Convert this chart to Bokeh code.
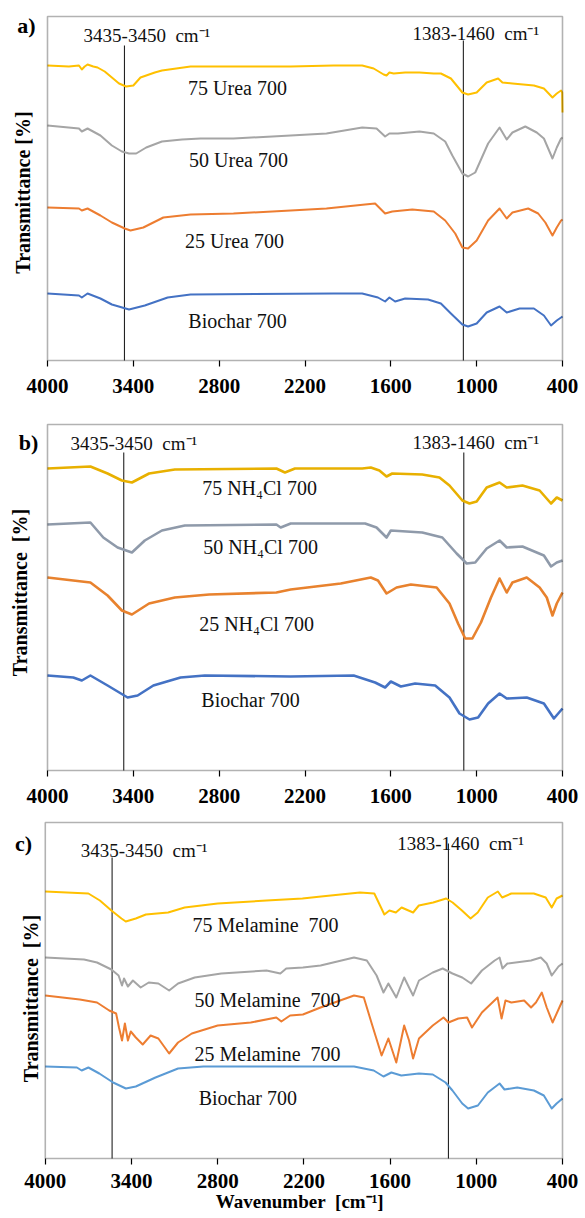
import math
from bokeh.plotting import figure
from bokeh.models import Range1d, FixedTicker, Label, BoxAnnotation
from bokeh.layouts import column
from bokeh.embed import file_html
from bokeh.resources import INLINE

FONT = "Liberation Serif"
x_ticks = [4000, 3400, 2800, 2200, 1600, 1000, 400]

# ---------------- Panel a : Urea ----------------
a_urea75_wn = [4000, 3850, 3780, 3760, 3740, 3720, 3680, 3650, 3600, 3550, 3500, 3450, 3400, 3350, 3250, 3200, 3100, 3000, 2600, 2300, 2000, 1800, 1720, 1650, 1630, 1610, 1580, 1500, 1400, 1300, 1250, 1180, 1100, 1060, 1000, 930, 850, 820, 750, 600, 530, 470, 440, 410, 402, 400]
a_urea75_t = [295, 294, 295, 291, 294, 296, 294, 293, 289, 283, 277, 274, 275, 283, 288, 290, 292, 294, 294, 294, 295, 295, 292, 286, 285, 288, 287, 288, 288, 287, 287, 282, 268, 266, 268, 278, 282, 278, 277, 275, 272, 263, 267, 270, 268, 248]

a_urea50_wn = [4000, 3780, 3760, 3720, 3630, 3550, 3480, 3430, 3380, 3310, 3200, 3060, 2930, 2700, 2300, 2050, 1800, 1700, 1640, 1610, 1550, 1400, 1300, 1220, 1170, 1100, 1060, 1010, 920, 840, 790, 750, 660, 580, 530, 470, 440, 410, 400]
a_urea50_t = [235, 232, 229, 232, 225, 215, 209, 207, 207, 213, 219, 221, 222, 222, 225, 227, 233, 232, 224, 227, 227, 229, 227, 219, 205, 187, 184, 188, 217, 233, 221, 228, 234, 228, 222, 202, 213, 222, 223]

a_urea25_wn = [4000, 3780, 3760, 3720, 3630, 3550, 3460, 3420, 3330, 3190, 3000, 2700, 2300, 2050, 1780, 1710, 1640, 1590, 1450, 1300, 1220, 1150, 1100, 1060, 1000, 920, 840, 790, 750, 640, 570, 520, 470, 440, 410, 400]
a_urea25_t = [153, 152, 150, 152, 145, 138, 132, 130, 133, 143, 146, 147, 150, 152, 156, 157, 147, 149, 151, 149, 140, 127, 113, 112, 120, 140, 152, 142, 148, 152, 147, 138, 125, 133, 140, 141]

a_bio_wn = [4000, 3780, 3760, 3720, 3630, 3550, 3430, 3320, 3160, 3000, 2000, 1800, 1690, 1640, 1610, 1570, 1500, 1340, 1250, 1180, 1100, 1060, 1000, 930, 840, 790, 700, 600, 530, 480, 440, 410, 400]
a_bio_t = [67, 65, 63, 67, 62, 56, 51, 55, 63, 66, 67, 67, 63, 59, 63, 59, 62, 61, 57, 47, 36, 34, 37, 48, 54, 48, 52, 52, 45, 35, 40, 43, 44]

# ---------------- Panel b : NH4Cl ----------------
b_nh75_wn = [4000, 3700, 3580, 3480, 3410, 3290, 3110, 2400, 2340, 2270, 1800, 1740, 1680, 1630, 1590, 1380, 1260, 1190, 1100, 1050, 1000, 930, 840, 790, 680, 560, 480, 440, 400]
b_nh75_t = [302, 304, 297, 290, 288, 297, 301, 302, 298, 302, 302, 303, 300, 294, 297, 296, 293, 285, 270, 267, 269, 283, 288, 283, 285, 280, 267, 273, 270]

b_nh50_wn = [4000, 3700, 3610, 3510, 3410, 3320, 3200, 3040, 2400, 2370, 2300, 1780, 1700, 1630, 1600, 1380, 1240, 1140, 1070, 1010, 930, 840, 790, 680, 530, 480, 440, 400]
b_nh50_t = [246, 248, 233, 223, 218, 230, 240, 245, 246, 243, 247, 247, 243, 233, 240, 238, 233, 217, 207, 208, 222, 230, 223, 224, 215, 204, 208, 210]

b_nh25_wn = [4000, 3700, 3580, 3480, 3410, 3290, 3110, 2870, 2400, 2300, 1950, 1740, 1690, 1630, 1560, 1460, 1280, 1190, 1130, 1080, 1030, 970, 900, 840, 790, 750, 650, 560, 510, 470, 440, 400]
b_nh25_t = [193, 188, 175, 160, 156, 167, 173, 176, 178, 181, 187, 193, 190, 177, 183, 186, 183, 167, 147, 132, 132, 148, 173, 192, 178, 188, 193, 183, 173, 155, 167, 178]

b_bio_wn = [4000, 3820, 3760, 3700, 3580, 3440, 3370, 3260, 3070, 2900, 2300, 1860, 1710, 1640, 1600, 1530, 1430, 1290, 1190, 1120, 1050, 990, 920, 840, 790, 650, 530, 460, 430, 400]
b_bio_t = [95, 93, 90, 95, 85, 73, 75, 85, 93, 95, 94, 95, 88, 83, 89, 84, 87, 85, 73, 57, 51, 53, 67, 77, 72, 73, 67, 52, 57, 62]

# ---------------- Panel c : Melamine ----------------
c_mel75_wn = [4000, 3700, 3620, 3540, 3470, 3440, 3370, 3300, 3145, 3030, 2800, 2460, 2210, 2080, 1810, 1710, 1670, 1640, 1605, 1560, 1520, 1440, 1400, 1300, 1210, 1165, 1100, 1040, 990, 920, 850, 820, 756, 600, 517, 475, 441, 400]
c_mel75_t = [267, 265, 258, 248, 240, 237, 240, 244, 246, 251, 255, 258, 260, 262, 266, 265, 253, 244, 248, 246, 251, 246, 253, 256, 260, 256, 248, 240, 246, 261, 267, 261, 265, 265, 261, 251, 260, 263]

c_mel50_wn = [4000, 3730, 3640, 3540, 3490, 3466, 3452, 3425, 3390, 3336, 3280, 3213, 3138, 3076, 2960, 2775, 2460, 2364, 2323, 2207, 2084, 1851, 1762, 1694, 1646, 1612, 1557, 1502, 1468, 1440, 1399, 1303, 1234, 1166, 1098, 1036, 961, 872, 838, 818, 784, 619, 551, 510, 475, 428, 400]
c_mel50_t = [201, 199, 196, 189, 183, 173, 180, 172, 178, 171, 176, 175, 168, 175, 181, 185, 188, 185, 190, 191, 193, 201, 198, 183, 166, 175, 161, 181, 171, 163, 178, 186, 190, 185, 181, 175, 188, 198, 201, 190, 195, 198, 201, 195, 183, 192, 195]

c_mel25_wn = [4000, 3760, 3640, 3555, 3507, 3487, 3466, 3446, 3425, 3405, 3370, 3322, 3267, 3213, 3138, 3076, 2980, 2800, 2570, 2392, 2357, 2296, 2207, 2084, 1851, 1783, 1728, 1659, 1612, 1557, 1502, 1468, 1440, 1399, 1303, 1228, 1194, 1125, 1064, 1030, 961, 852, 824, 797, 756, 667, 619, 585, 544, 510, 469, 400]
c_mel25_t = [163, 159, 156, 148, 145, 131, 118, 135, 118, 127, 121, 114, 123, 120, 105, 116, 125, 133, 136, 141, 137, 143, 144, 151, 163, 161, 135, 103, 120, 96, 133, 118, 100, 120, 133, 141, 136, 140, 141, 131, 146, 161, 140, 158, 156, 158, 151, 156, 166, 151, 136, 158]

c_bio_wn = [4000, 3780, 3747, 3700, 3624, 3528, 3439, 3370, 3233, 3076, 2900, 1851, 1714, 1646, 1591, 1522, 1399, 1303, 1214, 1166, 1098, 1057, 989, 920, 838, 804, 715, 599, 530, 475, 441, 400]
c_bio_t = [92, 91, 88, 91, 85, 76, 70, 72, 81, 90, 92, 92, 88, 82, 86, 83, 85, 84, 76, 68, 55, 50, 53, 66, 75, 69, 71, 68, 63, 50, 55, 60]

# band marker lines (wavenumber, top of line)
a_marker_wn = [3462, 1093]
a_marker_top = [315, 320]
b_marker_wn = [3467, 1090]
b_marker_top = [318, 318]
c_marker_wn = [3535, 1194]
c_marker_top = [301, 315]

band_labels = ["3435-3450\u00a0 cm\u207b\u00b9", "1383-1460\u00a0 cm\u207b\u00b9"]
y_title = "Transmittance [%]"
y_title_wide = "Transmittance\u00a0 [%]"
x_title = "\u00a0\u00a0\u00a0\u00a0\u00a0\u00a0Wavenumber\u00a0 [cm\u207b\u00b9]"

W = 585
PAD = 2


def make_panel(fig_h, box, frame_lr, tick_standoff, tag, tag_xy, ytitle, ytitle_xy,
               band_xy, markers, series, labels, lw, xlabel=None):
    bl, bt, br, bb = box            # plot box in figure pixels
    fl, fr = frame_lr               # frame extent in figure pixels
    xs = 3600.0 / (br - bl)
    fh = bb - bt
    p = figure(width=W, height=fig_h,
               x_range=Range1d(4000 + (bl - fl) * xs, 400 - (fr - br) * xs),
               y_range=Range1d(-PAD, fh + PAD),
               output_backend="svg", toolbar_location=None,
               min_border_left=fl, min_border_right=W - fr,
               min_border_top=bt - PAD, min_border_bottom=fig_h - bb - PAD)
    p.grid.visible = False
    p.outline_line_color = None
    p.yaxis.visible = False
    xa = p.xaxis[0]
    xa.ticker = FixedTicker(ticks=x_ticks)
    xa.axis_line_color = None
    xa.major_tick_out = 4
    xa.major_tick_in = PAD
    xa.minor_tick_out = 0
    xa.minor_tick_in = 0
    xa.major_tick_line_color = "black"
    xa.major_tick_line_width = 1.2
    xa.major_label_text_font = FONT
    xa.major_label_text_font_size = "21px"
    xa.major_label_text_font_style = "bold"
    xa.major_label_text_color = "black"
    xa.major_label_standoff = tick_standoff
    if xlabel:
        xa.axis_label = xlabel
        xa.axis_label_text_font = FONT
        xa.axis_label_text_font_size = "19px"
        xa.axis_label_text_font_style = "bold"
        xa.axis_label_text_color = "black"
        xa.axis_label_standoff = 0

    p.add_layout(BoxAnnotation(left=4000, right=400, bottom=0, top=fh, fill_color=None,
                               line_color="black", line_width=1.6))

    mwn, mtop = markers
    p.segment(x0=mwn, x1=mwn, y0=[0] * len(mwn), y1=mtop, line_color="#222222", line_width=1.1)

    for wn, t, col in series:
        p.line(wn, t, line_color=col, line_width=lw, line_join="round")

    for (x, y), txt in zip(band_xy, band_labels):
        p.add_layout(Label(x=x, y=y, text=txt, text_align="left", text_baseline="middle",
                           text_font=FONT, text_font_size="19px", text_color="#111111"))
    for (x, y, txt) in labels:
        p.add_layout(Label(x=x, y=y, text=txt, text_align="center", text_baseline="middle",
                           text_font=FONT, text_font_size="20px", text_color="#111111"))
    p.add_layout(Label(x=tag_xy[0], y=tag_xy[1], text=tag, text_align="center",
                       text_baseline="middle", text_font=FONT, text_font_size="22px",
                       text_font_style="bold", text_color="black"))
    p.add_layout(Label(x=ytitle_xy[0], y=ytitle_xy[1], text=ytitle, angle=math.pi / 2,
                       text_align="center", text_baseline="middle", text_font=FONT,
                       text_font_size="20px", text_font_style="bold", text_color="black"))
    return p


pa = make_panel(410, (47, 16, 562, 360), (6, 564), 12, "a)", (4147, 335),
                y_title, (4168, 168),
                [(3748, 325), (1449, 327)], (a_marker_wn, a_marker_top),
                [(a_urea75_wn, a_urea75_t, "#FFC000"), (a_urea50_wn, a_urea50_t, "#A5A5A5"),
                 (a_urea25_wn, a_urea25_t, "#ED7D31"), (a_bio_wn, a_bio_t, "#4472C4")],
                [(2672, 273, "75 Urea 700"), (2665, 201, "50 Urea 700"),
                 (2693, 120, "25 Urea 700"), (2672, 40, "Biochar 700")], 2.0)

pb = make_panel(402, (47, 14, 562, 360), (6, 564), 12, "b)", (4133, 328),
                y_title_wide, (4189, 178),
                [(3839, 327), (1449, 328)], (b_marker_wn, b_marker_top),
                [(b_nh75_wn, b_nh75_t, "#E8B000"), (b_nh50_wn, b_nh50_t, "#8F9AAA"),
                 (b_nh25_wn, b_nh25_t, "#E8822E"), (b_bio_wn, b_bio_t, "#4472C4")],
                [(2518, 283, "75 NH\u2084Cl 700"), (2511, 224, "50 NH\u2084Cl 700"),
                 (2539, 147, "25 NH\u2084Cl 700"), (2581, 71, "Biochar 700")], 2.6)

pc = make_panel(406, (43, 10, 563, 346), (4, 565), 9, "c)", (4151, 315),
                y_title_wide, (4096, 160),
                [(3754, 308), (1550, 315)], (c_marker_wn, c_marker_top),
                [(c_mel75_wn, c_mel75_t, "#FFC000"), (c_mel50_wn, c_mel50_t, "#A5A5A5"),
                 (c_mel25_wn, c_mel25_t, "#ED7D31"), (c_bio_wn, c_bio_t, "#5B9BD5")],
                [(2467, 234, "75 Melamine\u00a0 700"), (2453, 159, "50 Melamine\u00a0 700"),
                 (2453, 105, "25 Melamine\u00a0 700"), (2590, 61, "Biochar 700")], 2.0,
                xlabel=x_title)

layout = column(pa, pb, pc, spacing=0)
open("out.html", "w").write(file_html(layout, INLINE))
